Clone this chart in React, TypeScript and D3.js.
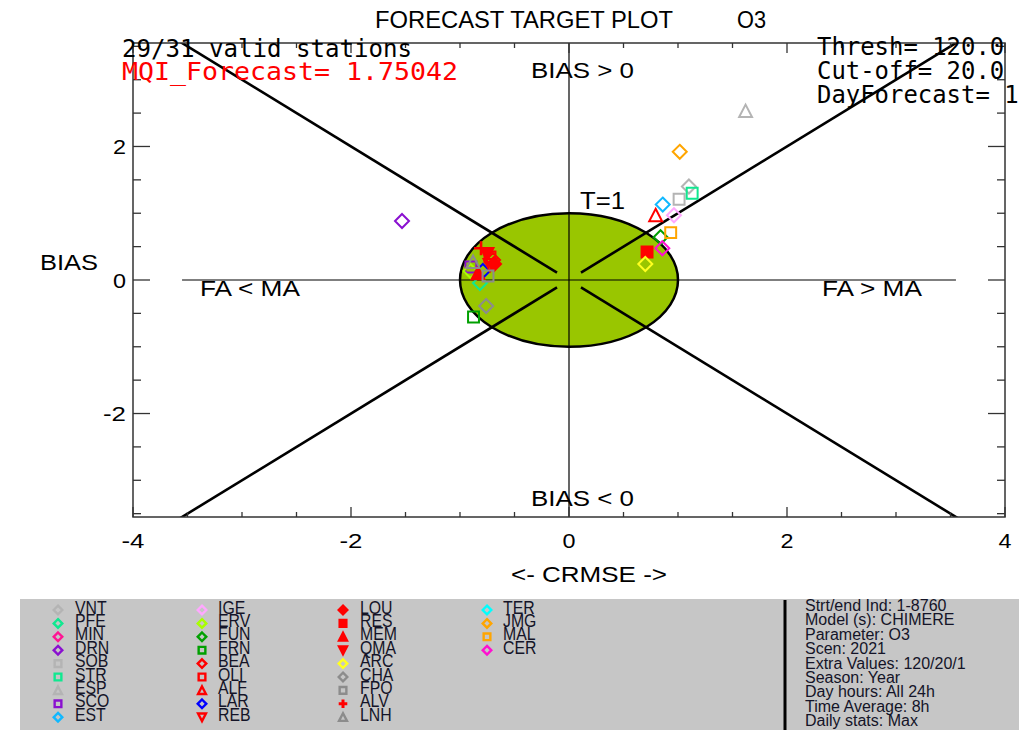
import React from 'react';
import * as d3 from 'd3';

// ---------- data ----------
const stations = ['VNT','PFE','MIN','DRN','SOB','STR','ESP','SCO','EST',
  'IGE','ERV','FUN','FRN','BEA','OLI','ALF','LAR','REB',
  'LOU','RES','MEM','QMA','ARC','CHA','FPO','ALV','LNH',
  'TER','JMG','MAL','CER'];
const symbols = ['diamond','diamond','diamond','diamond','square','square','triangle','square','diamond',
  'diamond','diamond','diamond','square','diamond','square','triangle','diamond','triangleDown',
  'diamondFill','squareFill','triangleFill','triangleDownFill','diamond','diamond','square','plus','triangle',
  'diamond','diamond','square','diamond'];
const colors = ['#b4b4b4','#10e890','#ff1493','#8a10d0','#b4b4b4','#10e890','#b4b4b4','#8a10d0','#10b8ff',
  '#ffa8ff','#a8ff00','#00a000','#00a000','#ff0000','#ff0000','#ff0000','#0000ff','#ff0000',
  '#ff0000','#ff0000','#ff0000','#ff0000','#ffff20','#8c8c8c','#8c8c8c','#ff0000','#8c8c8c',
  '#00ffff','#ffa500','#ffa500','#ff10d0'];
// CRMSE (x) and BIAS (y); null = station not valid
const crmse = [1.10,-0.817,null,-1.532,1.01,1.13,1.62,-0.90,0.86,
  0.963,-0.904,0.84,-0.876,-0.697,-0.725,0.795,-0.79,-0.725,
  -0.688,0.716,-0.835,-0.752,0.70,-0.76,-0.743,-0.807,-0.88,
  null,1.016,0.933,0.856];
const bias = [1.40,-0.045,null,0.884,1.21,1.30,2.53,0.195,1.13,
  0.97,0.135,0.64,-0.555,0.30,0.345,0.97,0.135,0.225,
  0.24,0.42,0.10,0.39,0.24,-0.39,0.06,0.475,0.27,
  null,1.92,0.71,0.475];

const xTicks = [-4,-2,0,2,4];
const yTicks = [-2,0,2];
const infoLines = ['Strt/end Ind: 1-8760','Model (s): CHIMERE','Parameter: O3','Scen: 2021',
  'Extra Values: 120/20/1','Season: Year','Day hours: All 24h','Time Average: 8h','Daily stats: Max'];
const validText = '29/31 valid stations';
const mqiText = 'MQI_Forecast=  1.75042';
const rightTexts = ['Thresh= 120.0','Cut-off= 20.0','DayForecast= 1'];

// ---------- layout ----------
const W = 1019, H = 730;
const x = d3.scaleLinear().domain([-4,4]).range([133,1005]);
const y = d3.scaleLinear().domain([-3.55,3.55]).range([517,43]);
const SANS = '"Liberation Sans", Arial, sans-serif';
const MONO = '"DejaVu Sans Mono", monospace';

function markerPath(sym: string, s: number): string {
  const base = sym.replace('Fill','');
  if (base === 'diamond') return `M0,${-s}L${s},0L0,${s}L${-s},0Z`;
  if (base === 'square') { const a = s*0.78; return `M${-a},${-a}L${a},${-a}L${a},${a}L${-a},${a}Z`; }
  if (base === 'triangle') return `M0,${-s*0.92}L${s*0.92},${s*0.85}L${-s*0.92},${s*0.85}Z`;
  if (base === 'triangleDown') return `M0,${s*0.92}L${s*0.92},${-s*0.85}L${-s*0.92},${-s*0.85}Z`;
  if (base === 'plus') return `M${-s},0L${s},0M0,${-s}L0,${s}`;
  return '';
}

function Marker({sym, color, cx, cy, s, sw}: any) {
  const filled = sym.endsWith('Fill');
  return <path d={markerPath(sym, s)} transform={`translate(${cx},${cy})`}
    fill={filled ? color : 'none'} stroke={color} strokeWidth={sym==='plus'? sw+0.6 : sw}
    strokeLinejoin="miter" />;
}

function Label({t, x0, yb, len, size = 21, anchor = 'start', color = '#000', family = SANS}: any) {
  return <text x={x0} y={yb} fontSize={size} fontFamily={family} fill={color} textAnchor={anchor}
    textLength={len} lengthAdjust="spacingAndGlyphs">{t}</text>;
}

export default function App() {
  const xMinor = d3.range(-4, 4.001, 0.5);
  const yMinor = d3.range(-3.5, 3.501, 0.5);
  const x0 = x(0), y0 = y(0);
  const rx = x(1) - x0, ry = y0 - y(1);
  const diag = [[1,1],[-1,1],[1,-1],[-1,-1]];
  const L = x.range(), T = y.range();
  const plotted = stations.map((n,i) => ({n, i})).filter(d => crmse[d.i] !== null);
  return (
    <svg width={W} height={H} style={{position:'absolute', left:0, top:0, background:'#fff'}}>
      <defs>
        <clipPath id="plotClip"><rect x={L[0]} y={T[1]} width={L[1]-L[0]} height={T[0]-T[1]} /></clipPath>
      </defs>
      <g clipPath="url(#plotClip)">
        <ellipse cx={x0} cy={y0} rx={rx} ry={ry} fill="#99c600" stroke="#000" strokeWidth={2.5} />
        <line x1={x(-3.55)} x2={x(3.55)} y1={y0} y2={y0} stroke="#000" strokeWidth={1.2} />
        <line x1={x0} x2={x0} y1={T[1]} y2={T[0]} stroke="#000" strokeWidth={1.2} />
        {diag.map(([sx,sy],k) => (
          <line key={k} x1={x(0.11*sx)} y1={y(0.11*sy)} x2={x(3.8*sx)} y2={y(3.8*sy)} stroke="#000" strokeWidth={2.6} />
        ))}
        {plotted.map(d => (
          <Marker key={d.n} sym={symbols[d.i]} color={colors[d.i]} cx={x(crmse[d.i] as number)} cy={y(bias[d.i] as number)} s={7} sw={2} />
        ))}
      </g>
      {/* frame */}
      <rect x={L[0]} y={T[1]} width={L[1]-L[0]} height={T[0]-T[1]} fill="none" stroke="#333" strokeWidth={1.5} />
      {xMinor.map(v => {
        const len = Math.abs(v % 2) < 1e-9 ? 10 : 5;
        return <g key={'xt'+v}>
          <line x1={x(v)} x2={x(v)} y1={T[0]} y2={T[0]-len} stroke="#333" strokeWidth={1.3} />
          <line x1={x(v)} x2={x(v)} y1={T[1]} y2={T[1]+len} stroke="#333" strokeWidth={1.3} />
        </g>;
      })}
      {yMinor.map(v => {
        const len = Math.abs(v % 2) < 1e-9 ? 17 : 8;
        return <g key={'yt'+v}>
          <line x1={L[0]} x2={L[0]+len} y1={y(v)} y2={y(v)} stroke="#333" strokeWidth={1.3} />
          <line x1={L[1]} x2={L[1]-len} y1={y(v)} y2={y(v)} stroke="#333" strokeWidth={1.3} />
        </g>;
      })}
      {xTicks.map(v => (
        <Label key={'xl'+v} t={String(v)} x0={x(v)} yb={548} len={v<0?23:13} anchor="middle" />
      ))}
      {yTicks.map(v => (
        <Label key={'yl'+v} t={String(v)} x0={126} yb={y(v)+7.5} len={v<0?23:13} anchor="end" />
      ))}
      {/* titles and labels */}
      <Label t="FORECAST TARGET PLOT" x0={375} yb={28} len={298} size={23} />
      <Label t="O3" x0={737} yb={28} len={29} size={23} />
      <Label t="BIAS > 0" x0={531} yb={78} len={103} size={22} />
      <Label t="BIAS < 0" x0={531} yb={506} len={103} size={22} />
      <Label t="T=1" x0={580} yb={209} len={45} size={23} />
      <Label t="BIAS" x0={40} yb={270} len={58} size={22} />
      <Label t="FA < MA" x0={200} yb={296} len={100} size={22} />
      <Label t="FA > MA" x0={822} yb={296} len={100} size={22} />
      <Label t="<- CRMSE ->" x0={511} yb={582} len={156} size={22} />
      <Label t={validText} x0={122} yb={57} len={290} size={24} family={MONO} />
      <Label t={mqiText} x0={122} yb={80} len={336} size={24} family={MONO} color="#ff0000" />
      {rightTexts.map((t,k) => (
        <Label key={t} t={t} x0={817} yb={55+k*24} len={t.length*14.4} size={24} family={MONO} />
      ))}
      {/* legend panel */}
      <rect x={20} y={599} width={W-20} height={H-599} fill="#c6c6c6" />
      <line x1={785} x2={785} y1={600} y2={H} stroke="#000" strokeWidth={3} />
      {stations.map((n,i) => {
        const col = Math.floor(i/9), row = i % 9;
        const mx = [58,202,343,487][col], tx = [75,218,360,503][col];
        const rc = 606.5 + row*13.4;
        return <g key={'lg'+n}>
          <Marker sym={symbols[i]} color={colors[i]} cx={mx} cy={rc+3.5} s={4.3} sw={2.4} />
          <text transform={`translate(${tx},${rc+7}) scale(0.88,1)`} fontSize={18} fontFamily={SANS} fill="#141428">{n}</text>
        </g>;
      })}
      {infoLines.map((t,k) => (
        <text key={t} x={805} y={611 + k*14.4} fontSize={16} fontFamily={SANS} fill="#141428">{t}</text>
      ))}
    </svg>
  );
}
